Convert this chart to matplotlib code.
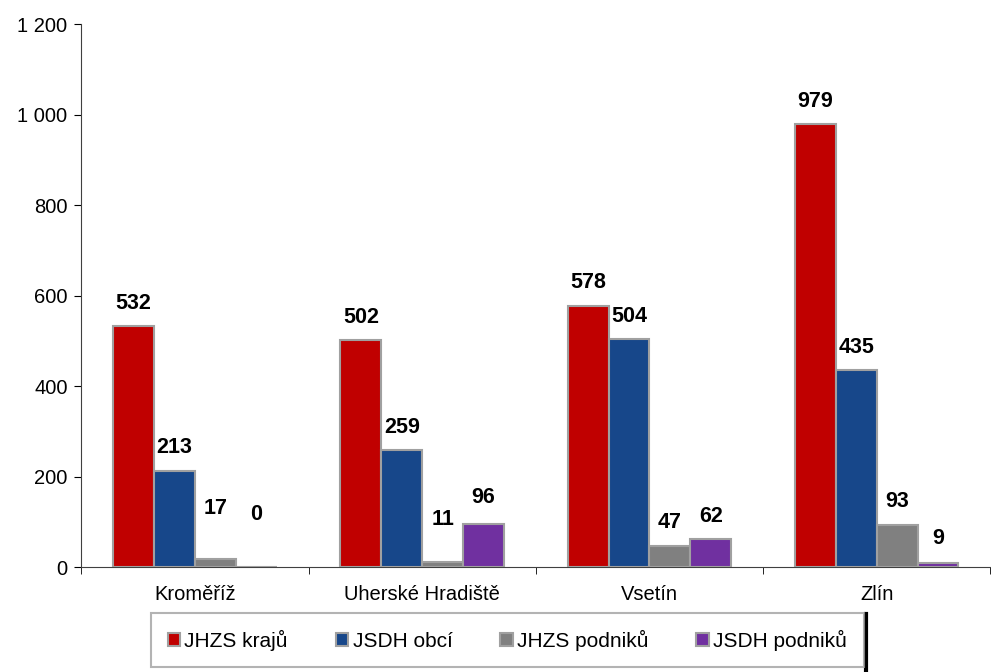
import matplotlib.pyplot as plt
import numpy as np
from matplotlib.ticker import FuncFormatter, FixedLocator
from matplotlib.lines import Line2D

plt.rcParams['font.family'] = ['Liberation Sans', 'DejaVu Sans']

# data
okresy = ['Kroměříž', 'Uherské Hradiště', 'Vsetín', 'Zlín']
serie = ['JHZS krajů', 'JSDH obcí', 'JHZS podniků', 'JSDH podniků']
jhzs_kraju = [532, 502, 578, 979]
jsdh_obci = [213, 259, 504, 435]
jhzs_podniku = [17, 11, 47, 93]
jsdh_podniku = [0, 96, 62, 9]

hodnoty = [jhzs_kraju, jsdh_obci, jhzs_podniku, jsdh_podniku]
barvy = ['#C00000', '#17478A', '#808080', '#7030A0']

# posun popisku nad sloupcem (v bodech) - Excel nektere posunul vys
posun = [[16.5, 16.5, 16.5, 16.5],
         [16.5, 16.5, 16.5, 16.5],
         [37, 31, 17, 17],
         [38, 19, 16.5, 18]]

fig = plt.figure(figsize=(9.91, 6.72), dpi=100)
ax = fig.add_axes([0.0822, 0.156, 0.917, 0.808])

x = np.arange(len(okresy))
sirka = 0.18

for i, (nazev, vals) in enumerate(zip(serie, hodnoty)):
    pos = x + (i - 1.5) * sirka
    ax.bar(pos, vals, sirka, color=barvy[i], edgecolor='#A0A0A0',
           linewidth=1.5, label=nazev, zorder=3)
    for j, v in enumerate(vals):
        ax.annotate(str(v), (pos[j], v), xytext=(0, posun[i][j]),
                    textcoords='offset points', ha='center', va='center',
                    fontsize=15.5, fontweight='bold')

ax.set_xlim(-0.5, len(okresy) - 0.5)
ax.set_ylim(0, 1200)
ax.set_yticks(range(0, 1201, 200))
ax.yaxis.set_major_formatter(FuncFormatter(lambda v, p: f'{int(v):,}'.replace(',', ' ')))

ax.set_xticks(x)
ax.set_xticklabels(okresy)
ax.xaxis.set_minor_locator(FixedLocator(np.arange(-0.5, len(okresy), 1.0)))
ax.tick_params(axis='x', which='major', length=0, labelsize=14.5, pad=13)
ax.tick_params(axis='x', which='minor', length=5, direction='out')
ax.tick_params(axis='y', length=5, direction='out', labelsize=14.5, pad=5)

ax.spines['top'].set_visible(False)
ax.spines['right'].set_visible(False)
ax.spines['left'].set_color('#404040')
ax.spines['bottom'].set_color('#404040')

leg = fig.legend(loc='center', bbox_to_anchor=(0.512, 0.0476), ncol=4,
                 fontsize=15, frameon=True, fancybox=False,
                 handlelength=0.6, handleheight=0.6, handletextpad=0.2,
                 columnspacing=2.3, borderpad=0.8)
leg.get_frame().set_edgecolor('#A0A0A0')
leg.get_frame().set_linewidth(1.5)
for h in leg.legend_handles:
    h.set_edgecolor('#A0A0A0')

# cerny pruh vpravo u legendy (stin jako v originale)
fig.add_artist(Line2D([0.8735, 0.8735], [0.0, 0.086], color='black', linewidth=3))

fig.savefig('out.png', dpi=100)
